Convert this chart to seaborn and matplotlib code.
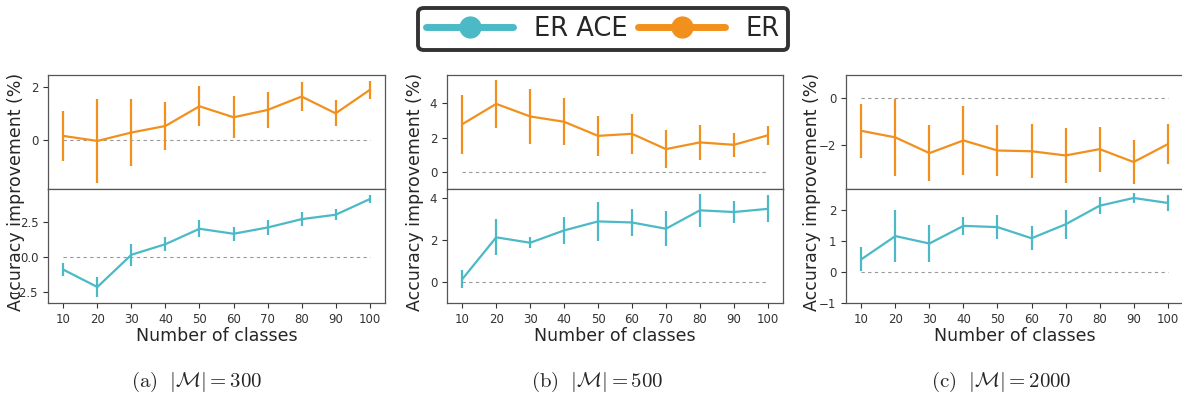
import matplotlib
matplotlib.use('Agg')
import matplotlib.pyplot as plt
from matplotlib.lines import Line2D
import pandas as pd
import seaborn as sns

sns.set_style('ticks')
plt.rcParams['font.family'] = ['DejaVu Sans']
plt.rcParams['mathtext.fontset'] = 'cm'

# Data (mean improvement and error half-width)
classes = [10, 20, 30, 40, 50, 60, 70, 80, 90, 100]

a_er_mean = [0.15, -0.04, 0.28, 0.53, 1.28, 0.86, 1.14, 1.65, 1.01, 1.90]
a_er_err = [0.95, 1.60, 1.28, 0.91, 0.76, 0.80, 0.70, 0.54, 0.49, 0.35]
a_ace_mean = [-0.90, -2.15, 0.17, 0.93, 2.04, 1.68, 2.13, 2.73, 3.05, 4.17]
a_ace_err = [0.45, 0.75, 0.80, 0.50, 0.60, 0.50, 0.55, 0.50, 0.40, 0.30]

b_er_mean = [2.78, 3.96, 3.23, 2.92, 2.10, 2.22, 1.33, 1.72, 1.58, 2.13]
b_er_err = [1.72, 1.40, 1.60, 1.36, 1.18, 1.17, 1.12, 1.00, 0.68, 0.55]
b_ace_mean = [0.14, 2.14, 1.88, 2.47, 2.90, 2.85, 2.55, 3.43, 3.35, 3.50]
b_ace_err = [0.43, 0.86, 0.27, 0.66, 0.94, 0.64, 0.84, 0.79, 0.52, 0.65]

c_er_mean = [-1.39, -1.67, -2.34, -1.80, -2.23, -2.26, -2.44, -2.17, -2.72, -1.96]
c_er_err = [1.15, 1.65, 1.20, 1.47, 1.08, 1.16, 1.17, 0.96, 0.94, 0.84]
c_ace_mean = [0.41, 1.16, 0.92, 1.49, 1.45, 1.09, 1.54, 2.14, 2.39, 2.23]
c_ace_err = [0.39, 0.85, 0.60, 0.30, 0.39, 0.39, 0.47, 0.28, 0.17, 0.25]

captions = [r'$\mathrm{(a)}\ \ |\mathcal{M}| = 300$',
            r'$\mathrm{(b)}\ \ |\mathcal{M}| = 500$',
            r'$\mathrm{(c)}\ \ |\mathcal{M}| = 2000$']

ACE_COLOR = '#4BBAC6'
ER_COLOR = '#F2901E'

panels = [
    dict(er=(a_er_mean, a_er_err), ace=(a_ace_mean, a_ace_err),
         left=48, width=337, ylab_x=16, cap_x=197,
         top_lim=(-1.87, 2.47), top_ticks=[0, 2],
         bot_lim=(-3.3, 4.9), bot_ticks=[-2.5, 0.0, 2.5], bot_fmt='{:.1f}'),
    dict(er=(b_er_mean, b_er_err), ace=(b_ace_mean, b_ace_err),
         left=447, width=336, ylab_x=415, cap_x=597,
         top_lim=(-0.99, 5.64), top_ticks=[0, 2, 4],
         bot_lim=(-1.0, 4.45), bot_ticks=[0, 2, 4], bot_fmt='{:.0f}'),
    dict(er=(c_er_mean, c_er_err), ace=(c_ace_mean, c_ace_err),
         left=846, width=337, ylab_x=812, cap_x=1001,
         top_lim=(-3.87, 0.99), top_ticks=[-2, 0],
         bot_lim=(-1.0, 2.68), bot_ticks=[-1, 0, 1, 2], bot_fmt='{:.0f}'),
]

W, H = 1182, 400
fig = plt.figure(figsize=(W / 100, H / 100), dpi=100)


def draw_series(ax, mean, err, color):
    df = pd.DataFrame({'classes': classes, 'mean': mean, 'err': err})
    sns.lineplot(data=df, x='classes', y='mean', color=color, lw=1.6, ax=ax)
    ax.vlines(df['classes'], df['mean'] - df['err'], df['mean'] + df['err'],
              color=color, lw=1.6)
    ax.hlines(0, classes[0], classes[-1], colors='#999999', lw=0.8,
              linestyles=(0, (3, 3)), zorder=0)
    ax.set_xlim(classes[0] - 4.5, classes[-1] + 4.5)
    ax.set_xlabel('')
    ax.set_ylabel('')
    for s in ax.spines.values():
        s.set_color('#555555')
        s.set_linewidth(0.9)
    ax.tick_params(labelsize=8.5, colors='#333333', length=3.5, width=0.8)


for i, p in enumerate(panels):
    x0 = p['left'] / W
    w = p['width'] / W
    ax_top = fig.add_axes([x0, 1 - 189 / H, w, 114 / H])
    ax_bot = fig.add_axes([x0, 1 - 303 / H, w, 114 / H], sharex=ax_top)

    draw_series(ax_top, *p['er'], ER_COLOR)
    draw_series(ax_bot, *p['ace'], ACE_COLOR)

    ax_top.set_ylim(*p['top_lim'])
    ax_top.set_yticks(p['top_ticks'])
    ax_top.tick_params(axis='x', bottom=False, labelbottom=False)
    ax_bot.set_ylim(*p['bot_lim'])
    ax_bot.set_yticks(p['bot_ticks'])
    ax_bot.set_yticklabels([p['bot_fmt'].format(t).replace('-', '\u2212')
                            for t in p['bot_ticks']])
    ax_bot.set_xticks(classes)
    ax_bot.set_xlabel('Number of classes', fontsize=12.5, labelpad=1)

    fig.text(p['ylab_x'] / W, 1 - 192 / H, 'Accuracy improvement (%)',
             rotation=90, ha='center', va='center', fontsize=12.5)
    fig.text(p['cap_x'] / W, 1 - 382 / H, captions[i],
             ha='center', va='center', fontsize=15)

handles = [Line2D([], [], color=ACE_COLOR, lw=5, marker='o', markersize=15),
           Line2D([], [], color=ER_COLOR, lw=5, marker='o', markersize=15)]
leg = fig.legend(handles, ['ER ACE', 'ER'], loc='center',
                 bbox_to_anchor=(603 / W, 1 - 29 / H), ncol=2, fontsize=18.5,
                 frameon=True, fancybox=True, handlelength=3.4,
                 handletextpad=0.8, columnspacing=0.4, borderpad=0.3,
                 borderaxespad=0)
leg.get_frame().set_edgecolor('#333333')
leg.get_frame().set_linewidth(2.8)
leg.get_frame().set_alpha(1)

fig.savefig('out.png', dpi=100)
